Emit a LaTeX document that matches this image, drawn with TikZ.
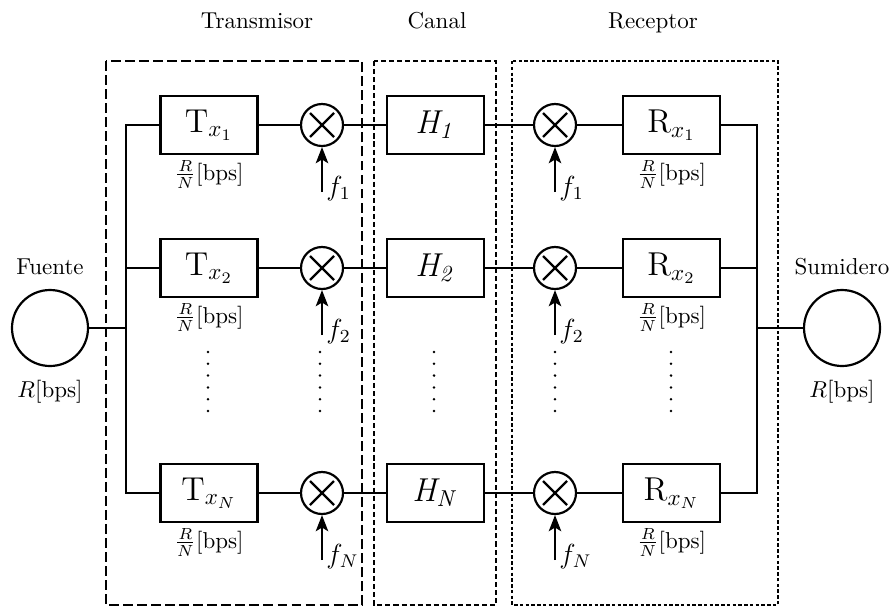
\documentclass[tikz,border=0pt]{standalone}
\usetikzlibrary{arrows.meta}
\begin{document}
\begin{tikzpicture}[x=0.4348pt,y=-0.4348pt,
  wire/.style={line width=0.9pt},
  blk/.style={draw,line width=1.15pt,minimum width={97*0.4348pt},minimum height={58*0.4348pt},inner sep=0pt,font=\Large},
  mix/.style={draw,circle,line width=0.95pt,minimum size={42*0.4348pt},inner sep=0pt},
  endp/.style={draw,circle,line width=0.95pt,minimum size={76*0.4348pt},inner sep=0pt},
  feed/.style={line width=0.95pt,-{Stealth[length=7pt,width=5.4pt,inset=1.6pt]}},
  rate/.style={anchor=north,inner sep=1pt},
  flab/.style={anchor=base west,inner sep=0pt,font=\large},
  grp/.style={line width=0.85pt},
]
\useasboundingbox (0,0) rectangle (896,608);

% group frames
\draw[grp,dash pattern=on 4.3pt off 1.8pt] (106,61) rectangle (362,605);
\draw[grp,dash pattern=on 2.2pt off 1.3pt] (374,61) rectangle (496,605);
\draw[grp,dash pattern=on 1.5pt off 1pt] (512,61) rectangle (778,605);
\node[anchor=base] (ttx) at (257,28) {Transmisor};
\node[anchor=base] (tch) at (437,28) {Canal};
\node[anchor=base] (trx) at (653,28) {Receptor};

% source and sink
\node[endp] (src) at (50,328) {};
\node[endp] (snk) at (842,328) {};
\node[anchor=base] (srcl) at (50,274) {Fuente};
\node[anchor=base] (snkl) at (842,274) {Sumidero};
\node[anchor=base] (srcr) at (50,397) {$R$[bps]};
\node[anchor=base] (snkr) at (842,397) {$R$[bps]};

% rows
\foreach \r/\y/\s in {1/125/1,2/268/2,N/493/N}{
  \node[blk] (t\r) at (209,\y) {T$_{x_{\s}}$};
  \node[mix] (m\r) at (322,\y) {};
  \node[blk] (h\r) at (435.5,\y) {$\mathit{H}_{\mathit{\s}}$};
  \node[mix] (n\r) at (555,\y) {};
  \node[blk] (r\r) at (671.5,\y) {R$_{x_{\s}}$};
  \draw[line width=0.95pt] ([shift={(-12,-12)}]m\r.center) -- ([shift={(12,12)}]m\r.center)
                          ([shift={(-12,12)}]m\r.center) -- ([shift={(12,-12)}]m\r.center);
  \draw[line width=0.95pt] ([shift={(-12,-12)}]n\r.center) -- ([shift={(12,12)}]n\r.center)
                          ([shift={(-12,12)}]n\r.center) -- ([shift={(12,-12)}]n\r.center);
  \coordinate (a\r) at (322,\y+67);
  \coordinate (b\r) at (555,\y+67);
  \draw[feed] (a\r) -- (m\r.south);
  \draw[feed] (b\r) -- (n\r.south);
  \node[flab] (fa\r) at (326,\y+70) {$f_{\s}$};
  \node[flab] (fb\r) at (559,\y+70) {$f_{\s}$};
  \node[rate] (ra\r) at ([yshift=-1]t\r.south) {$\frac{R}{N}$[bps]};
  \node[rate] (rb\r) at ([yshift=-1]r\r.south) {$\frac{R}{N}$[bps]};
  \draw[wire] (t\r) -- (m\r);
  \draw[wire] (m\r) -- (h\r);
  \draw[wire] (h\r) -- (n\r);
  \draw[wire] (n\r) -- (r\r);
}

% buses
\coordinate (bl1) at (126,125);
\coordinate (blN) at (126,493);
\coordinate (bl0) at (126,328);
\coordinate (br1) at (757,125);
\coordinate (brN) at (757,493);
\coordinate (br0) at (757,328);
\draw[wire] (t1.west) -- (bl1) -- (blN) -- (tN.west);
\draw[wire] (t2.west) -- (t2.west -| bl1);
\draw[wire] (src) -- (bl0);
\draw[wire] (r1.east) -- (br1) -- (brN) -- (rN.east);
\draw[wire] (r2.east) -- (r2.east -| br1);
\draw[wire] (snk) -- (br0);

% dots
\foreach \x in {208,320,434,555,671}{
  \foreach \k in {0,...,5}{
    \fill (\x,352+11.8*\k) circle (0.6pt);
  }
}
\end{tikzpicture}
\end{document}
